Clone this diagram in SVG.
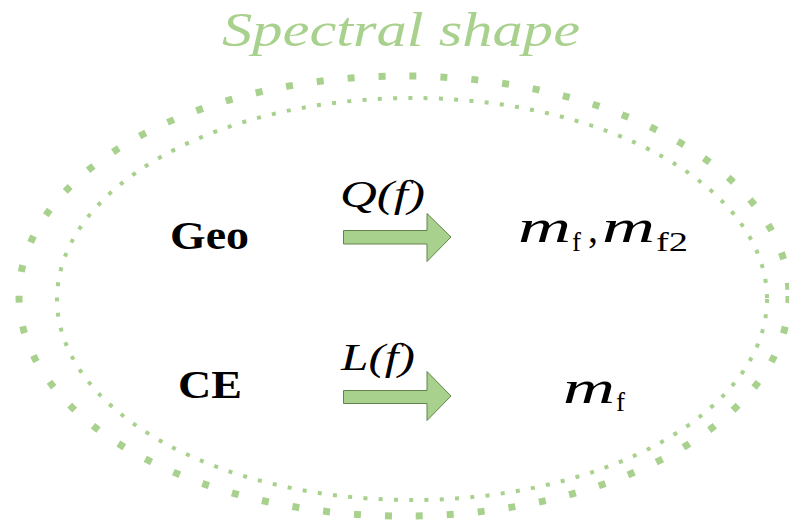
<svg xmlns="http://www.w3.org/2000/svg" width="789" height="521" viewBox="0 0 789 521">
<style>
.ell{fill:none;stroke:#a9d18e}
.lbl{font-family:"Liberation Serif","Times New Roman","DejaVu Serif",serif;font-weight:bold;fill:#000}
.math{font-family:"Liberation Serif","Times New Roman","DejaVu Serif",serif;font-style:italic;fill:#000}
.rm{font-family:"Liberation Serif","Times New Roman","DejaVu Serif",serif;fill:#000}
.arrow{fill:#a9d18e;stroke:#62844c;stroke-width:1}
</style>
<rect width="789" height="521" fill="#fff"/>
<g id="frame">
<ellipse class="ell" cx="404" cy="296" rx="385" ry="220" stroke-width="7" stroke-dasharray="7 24"/>
<ellipse class="ell" cx="412" cy="299" rx="355" ry="201" stroke-width="4" stroke-dasharray="4 11.3"/>
<text x="222" y="46" font-family="'Liberation Serif','DejaVu Serif',cursive" font-style="italic" font-size="48" fill="#a9d18e" textLength="358" lengthAdjust="spacingAndGlyphs">Spectral shape</text>
</g>
<g id="geo"><text class="lbl" x="170" y="249" font-size="40" textLength="79" lengthAdjust="spacingAndGlyphs">Geo</text></g>
<g id="ce"><text class="lbl" x="178" y="398" font-size="40" textLength="64" lengthAdjust="spacingAndGlyphs">CE</text></g>
<g id="out1">
<text class="math" x="518" y="242" font-size="46" textLength="53" lengthAdjust="spacingAndGlyphs">m</text>
<text class="rm" x="572" y="251" font-size="27">f</text>
<text class="rm" x="588" y="242" font-size="40">,</text>
<text class="math" x="602" y="242" font-size="46" textLength="53" lengthAdjust="spacingAndGlyphs">m</text>
<text class="rm" x="656" y="251" font-size="27" textLength="32" lengthAdjust="spacingAndGlyphs">f2</text>
</g>
<g id="out2">
<text class="math" x="563" y="403" font-size="46" textLength="52" lengthAdjust="spacingAndGlyphs">m</text>
<text class="rm" x="616" y="411" font-size="27">f</text>
</g>
<g id="connectors">
<g id="arrowQ">
<polygon class="arrow" points="343.5,230.5 427,230.5 427,213.5 451,237 427,261.5 427,244 343.5,244"/>
<text class="math" x="340" y="207" font-size="38" textLength="85" lengthAdjust="spacingAndGlyphs">Q(f)</text>
</g>
<g id="arrowL">
<polygon class="arrow" points="343.5,390.5 427,390.5 427,371.5 451,396 427,420.5 427,403.5 343.5,403.5"/>
<text class="math" x="341" y="370" font-size="38" textLength="74" lengthAdjust="spacingAndGlyphs">L(f)</text>
</g>
</g>
</svg>
